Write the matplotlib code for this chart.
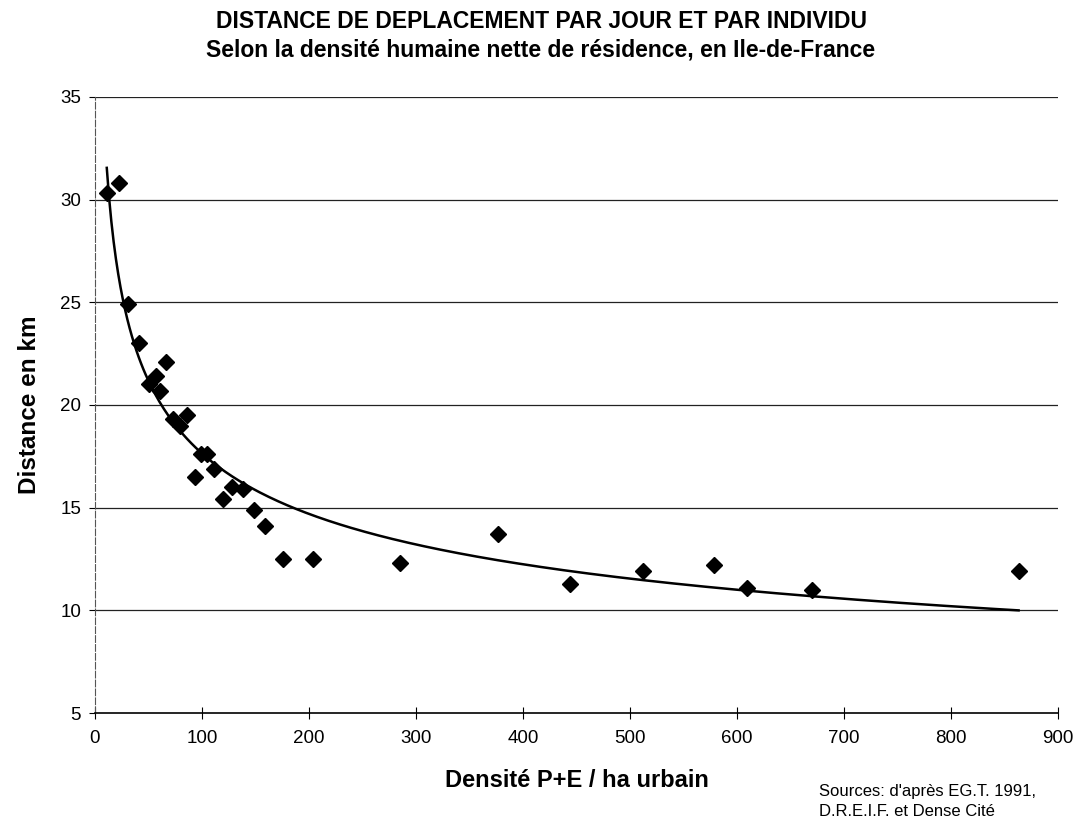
import numpy as np
import matplotlib.pyplot as plt

plt.rcParams['font.family'] = ['Liberation Sans', 'DejaVu Sans']

# densité P+E / ha urbain, distance en km
densite = [11, 22, 31, 41, 50, 57, 61, 66, 73, 79, 86, 93, 99, 105, 111,
           120, 128, 138, 149, 159, 176, 204, 285, 377, 444, 512, 578, 609, 670, 863]
distance = [30.3, 30.8, 24.9, 23.0, 21.0, 21.4, 20.7, 22.1, 19.3, 19.0, 19.5, 16.5, 17.6, 17.6, 16.9,
            15.4, 16.0, 15.9, 14.9, 14.1, 12.5, 12.5, 12.3, 13.7, 11.3, 11.9, 12.2, 11.1, 11.0, 11.9]

# courbe de tendance (puissance)
b, ln_a = np.polyfit(np.log(densite), np.log(distance), 1)
xs = np.linspace(min(densite), max(densite), 400)
ys = np.exp(ln_a) * xs ** b

fig = plt.figure(figsize=(10.82, 8.21), dpi=100)
ax = fig.add_axes([0.0878, 0.1315, 0.8902, 0.7504])

for yv in [10, 15, 20, 25, 30, 35]:
    ax.axhline(yv, color='#222222', lw=0.9, zorder=1)

ax.plot(xs, ys, color='black', lw=1.8, zorder=2)
ax.plot(densite, distance, 'D', color='black', ms=8, zorder=3)

ax.set_xlim(0, 900)
ax.set_ylim(5, 35)
ax.set_xticks(range(0, 901, 100))
ax.set_yticks(range(5, 36, 5))
ax.tick_params(labelsize=13.5, length=8, width=0.8, direction='inout', pad=8)
ax.tick_params(axis='y', direction='out', length=4, pad=6)

for s in ['top', 'right']:
    ax.spines[s].set_visible(False)
ax.spines['left'].set_color('#555555')
ax.spines['left'].set_linestyle((0, (6, 2)))
ax.spines['left'].set_linewidth(0.8)
ax.spines['bottom'].set_linewidth(1.2)

ax.set_xlabel('Densité P+E / ha urbain', fontsize=17, fontweight='bold', labelpad=16)
ax.set_ylabel('Distance en km', fontsize=17.5, fontweight='bold', labelpad=14)

fig.text(0.5, 0.988, 'DISTANCE DE DEPLACEMENT PAR JOUR ET PAR INDIVIDU',
         ha='center', va='top', fontsize=16.5, fontweight='bold')
fig.text(0.5, 0.953, 'Selon la densité humaine nette de résidence, en Ile-de-France',
         ha='center', va='top', fontsize=16.5, fontweight='bold')
fig.text(0.757, 0.024, "Sources: d'après EG.T. 1991,\nD.R.E.I.F. et Dense Cité",
         ha='left', va='center', fontsize=12, linespacing=1.45)

fig.savefig('out.png', dpi=100)
